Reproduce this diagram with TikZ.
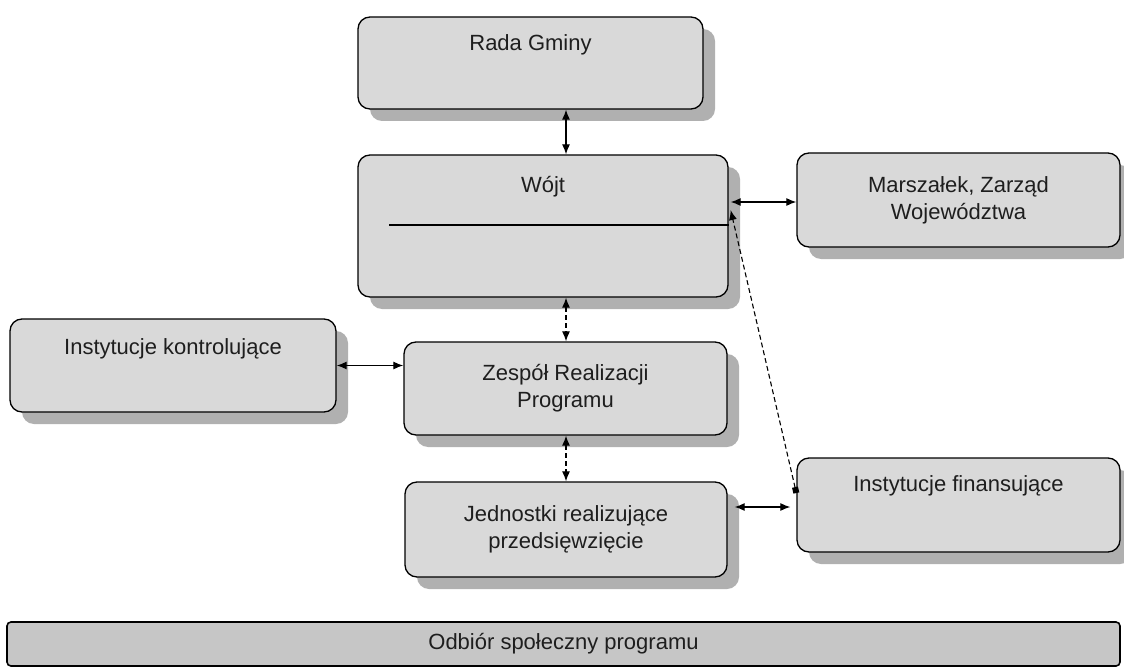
\documentclass[tikz,border=0pt]{standalone}
\usepackage{fontspec}
\setmainfont{Liberation Sans}
\usetikzlibrary{arrows.meta,shadows}
\definecolor{boxfill}{HTML}{D9D9D9}
\definecolor{barfill}{HTML}{C6C6C6}
\definecolor{shadowgray}{HTML}{A8A8A8}
\definecolor{txtcol}{HTML}{1E1E1E}
\begin{document}
\begin{tikzpicture}[x=1pt,y=-1pt,
  box/.style={draw=black, line width=1.3pt, rounded corners=12pt, fill=boxfill,
    text=txtcol, font=\fontsize{22}{27}\selectfont, align=center, inner sep=0pt,
    drop shadow={shadow xshift=12pt, shadow yshift=-12pt, fill=shadowgray, opacity=0.9}},
  lbl/.style={text=txtcol, font=\fontsize{22}{27}\selectfont, anchor=base},
  conn/.style={line width=1.2pt, {Latex[length=10pt,width=8pt]}-{Latex[length=10pt,width=8pt]}},
  dconn/.style={conn, dash pattern=on 5pt off 3pt},
]
\useasboundingbox[fill=white] (0,0) rectangle (1124,671);
\coordinate (cx) at (566,0);

\node[box, minimum width=345pt, minimum height=92pt,
  label={[lbl, yshift=-34pt]north:Rada Gminy}] (rada) at (530.5,63) {};
\node[box, minimum width=370pt, minimum height=142pt,
  label={[lbl, yshift=-38pt]north:Wójt}] (wojt) at (543,226) {};
\node[box, minimum width=323pt, minimum height=94pt] (marsz) at (958.5,200)
  {Marszałek, Zarząd\\Województwa};
\node[box, minimum width=326pt, minimum height=93pt,
  label={[lbl, yshift=-36pt]north:Instytucje kontrolujące}] (kontr) at (173,365.5) {};
\node[box, minimum width=323pt, minimum height=93pt] (zesp) at (565.5,388.5)
  {Zespół Realizacji\\Programu};
\node[box, minimum width=322pt, minimum height=95pt] (jedn) at (566,529.5)
  {Jednostki realizujące\\przedsięwzięcie};
\node[box, minimum width=323pt, minimum height=94pt,
  label={[lbl, yshift=-34pt]north:Instytucje finansujące}] (finans) at (958.5,505) {};
\node[draw=black, line width=1.6pt, rounded corners=4pt, fill=barfill, text=txtcol,
  font=\fontsize{22}{27}\selectfont, minimum width=1113pt, minimum height=44pt, inner sep=0pt]
  (odbior) at (563.5,644) {Odbiór społeczny programu};

% line inside Wojt
\draw[line width=1.3pt] ([xshift=32pt,yshift=1pt]wojt.west) -- ([yshift=1pt]wojt.east);

% connectors
\draw[conn] (rada.south -| cx) -- (wojt.north -| cx);
\draw[dconn] (wojt.south -| cx) -- (zesp.north -| cx);
\draw[dconn] (zesp.south -| cx) -- (jedn.north -| cx);
\draw[conn] ([xshift=2pt,yshift=-2pt]marsz.west -| wojt.east) -- ([yshift=-2pt]marsz.west);
\draw[conn] (kontr.east) -- (kontr.east -| zesp.west);
\draw[conn] ([xshift=-6pt,yshift=-2pt]finans.west) -- ([xshift=7pt,yshift=-2pt]finans.west -| jedn.east);
\draw[line width=1.1pt, dash pattern=on 5pt off 3pt, {Square[length=6pt,width=6pt]}-{Latex[length=10pt,width=8pt]}]
  ([yshift=12pt]finans.west) -- ([xshift=2pt,yshift=16pt]wojt.east);
\end{tikzpicture}
\end{document}
